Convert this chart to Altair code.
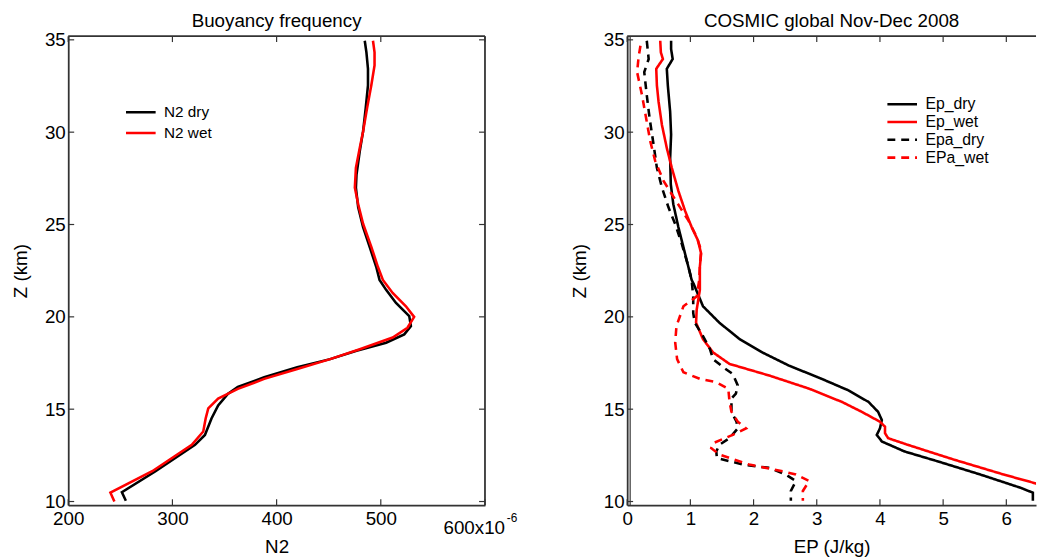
import altair as alt
import pandas as pd

# ---------------- data ----------------
n2_dry_z = [10.04, 10.5, 11.64, 13.07, 13.6, 14.5, 15.2, 15.84, 16.2, 16.73, 17.27, 17.71, 18.16, 18.6,
            19.05, 19.5, 20.04, 20.75, 21.46, 22.0, 22.71, 23.79, 24.86, 25.93, 27.0, 27.71, 28.96,
            30.04, 31.29, 32.54, 33.43, 34.32, 34.95]
n2_dry_x = [255.3, 251.5, 283.8, 321.7, 331.2, 337.5, 343.9, 353.4, 362.8, 388.1, 419.8, 451.4, 476.7,
            505.1, 522.5, 528.9, 527.3, 514.6, 505.1, 498.8, 495.6, 489.3, 483.0, 478.3, 476.1, 476.7,
            479.8, 483.0, 485.5, 487.7, 487.7, 486.2, 484.6]
n2_wet_z = [10.0, 10.48, 11.64, 13.07, 13.79, 14.5, 15.04, 15.57, 16.1, 16.64, 17.18, 17.71, 18.25,
            18.88, 19.41, 20.0, 20.57, 21.29, 22.0, 22.71, 23.79, 25.04, 26.1, 27.0, 28.07, 29.14,
            30.04, 31.29, 32.54, 33.61, 34.32, 34.95]
n2_wet_x = [244.3, 240.5, 280.6, 318.6, 329.6, 331.9, 334.4, 343.9, 362.8, 388.1, 419.8, 451.4, 479.8,
            511.4, 525.6, 532.0, 524.1, 511.4, 502.0, 497.2, 490.9, 483.0, 478.3, 475.1, 476.1, 479.8,
            483.0, 486.8, 490.9, 494.0, 494.0, 492.5]

ep_dry_z = [34.95, 34.5, 33.96, 33.43, 32.54, 31.1, 29.86, 28.6, 27.18, 26.1, 24.86, 23.43, 22.0, 21.8,
            20.57, 19.68, 18.79, 18.07, 17.36, 16.64, 16.02, 15.39, 14.86, 14.41, 13.96, 13.61, 13.25,
            12.71, 12.18, 11.46, 10.75, 10.48, 10.04]
ep_dry_x = [0.695, 0.695, 0.72, 0.627, 0.643, 0.68, 0.695, 0.68, 0.69, 0.73, 0.81, 0.915, 1.02, 1.05,
            1.2, 1.46, 1.78, 2.14, 2.56, 3.08, 3.50, 3.82, 3.97, 4.03, 4.0, 3.95, 4.03, 4.39, 4.91,
            5.59, 6.22, 6.42, 6.42]
ep_wet_z = [34.95, 34.32, 33.96, 33.43, 32.54, 31.64, 30.39, 29.14, 28.07, 26.82, 25.75, 24.86, 24.14,
            23.43, 22.71, 22.0, 21.46, 20.39, 19.68, 18.79, 18.07, 17.45, 16.82, 16.11, 15.39, 14.86,
            14.32, 14.05, 13.7, 13.43, 13.07, 12.27, 11.46, 10.93, 10.88]
ep_wet_x = [0.523, 0.533, 0.565, 0.46, 0.47, 0.497, 0.55, 0.627, 0.706, 0.81, 0.915, 1.02, 1.12, 1.17,
            1.15, 1.15, 1.15, 1.1, 1.09, 1.2, 1.36, 1.62, 2.25, 2.88, 3.40, 3.71, 4.0, 4.08, 4.08, 4.13,
            4.44, 5.17, 5.96, 6.52, 6.6]
epa_dry_z = [34.95, 33.96, 33.25, 32.0, 30.75, 29.32, 28.07, 27.0, 25.93, 25.04, 23.96, 22.71, 22.0, 21.1,
             20.21, 19.68, 18.96, 18.25, 17.71, 17.27, 16.91, 16.29, 15.84, 15.57, 14.86, 14.32, 13.96,
             13.43, 13.07, 12.71, 12.36, 12.0, 11.82, 11.46, 11.11, 10.57, 10.04]
epa_dry_x = [0.31, 0.34, 0.27, 0.31, 0.355, 0.418, 0.47, 0.55, 0.653, 0.758, 0.863, 0.97, 1.02, 1.045,
             1.045, 1.07, 1.2, 1.31, 1.36, 1.52, 1.67, 1.75, 1.72, 1.65, 1.65, 1.73, 1.75, 1.62, 1.46,
             1.41, 1.42, 1.83, 2.25, 2.51, 2.67, 2.59, 2.59]
epa_wet_z = [34.68, 34.05, 33.25, 32.0, 30.75, 29.5, 28.43, 27.36, 26.64, 25.93, 25.21, 24.32, 23.61,
             22.71, 22.0, 21.1, 20.57, 19.5, 18.61, 17.71, 17.0, 16.64, 16.46, 16.11, 15.39, 14.86,
             14.32, 13.96, 13.61, 13.16, 12.89, 12.54, 12.0, 11.64, 11.46, 11.11, 10.57, 10.04]
epa_wet_x = [0.21, 0.18, 0.157, 0.235, 0.30, 0.366, 0.444, 0.575, 0.706, 0.837, 0.97, 1.1, 1.17, 1.15,
             1.14, 1.1, 0.89, 0.78, 0.76, 0.79, 0.89, 1.15, 1.41, 1.6, 1.62, 1.65, 1.75, 1.88, 1.67,
             1.36, 1.33, 1.46, 1.93, 2.46, 2.67, 2.88, 2.78, 2.78]

left_series = ["N2 dry", "N2 wet"]
right_series = ["Ep_dry", "Ep_wet", "Epa_dry", "EPa_wet"]
left_xticks = [200, 300, 400, 500, 600]
right_xticks = [0, 1, 2, 3, 4, 5, 6]
yticks = [10, 15, 20, 25, 30, 35]

# ---------------- tables ----------------
def frame(series, zs, xs):
    rows = []
    for name, z, x in zip(series, zs, xs):
        for i, (zz, xx) in enumerate(zip(z, x)):
            rows.append({"series": name, "z": zz, "x": xx, "i": i})
    return pd.DataFrame(rows)

df_left = frame(left_series, [n2_dry_z, n2_wet_z], [n2_dry_x, n2_wet_x])
df_right = frame(right_series, [ep_dry_z, ep_wet_z, epa_dry_z, epa_wet_z],
                 [ep_dry_x, ep_wet_x, epa_dry_x, epa_wet_x])

FONT = "Liberation Sans"
W1, W2, H = 422, 414, 475
YDOM = [9.8, 35.2]
FRAME_C = "#333333"
FS = 19


def x_axis(values, title, expr=None):
    kw = dict(values=values, title=title, ticks=False, grid=False, domainColor=FRAME_C,
              domainWidth=1.8, labelFont=FONT, labelFontSize=FS, labelColor="black",
              labelPadding=5, labelFlush=False, titleFont=FONT, titleFontSize=FS,
              titleFontWeight="normal", titleColor="black", titlePadding=9)
    if expr:
        kw["labelExpr"] = expr
    return alt.Axis(**kw)


Y_AXIS = alt.Axis(values=yticks, title="Z (km)", ticks=False, grid=False, domainColor=FRAME_C,
                  domainWidth=1.8, labelFont=FONT, labelFontSize=FS, labelColor="black",
                  labelPadding=3, labelFlush=False, titleFont=FONT, titleFontSize=FS,
                  titleFontWeight="normal", titleColor="black", titlePadding=14)


def decorations(xticks, xscale, xaxis, yscale, W, right_border):
    one = pd.DataFrame({"a": [0]})
    xt = pd.DataFrame({"x": xticks})
    yt = pd.DataFrame({"z": yticks})
    layers = [
        alt.Chart(xt).mark_rule(color=FRAME_C, strokeWidth=1.2).encode(
            x=alt.X("x:Q", scale=xscale, axis=xaxis), y=alt.value(H), y2=alt.value(H - 6)),
        alt.Chart(xt).mark_rule(color=FRAME_C, strokeWidth=1.2).encode(
            x=alt.X("x:Q", scale=xscale, axis=xaxis), y=alt.value(0), y2=alt.value(6)),
        alt.Chart(yt).mark_rule(color=FRAME_C, strokeWidth=1.2).encode(
            y=alt.Y("z:Q", scale=yscale, axis=Y_AXIS), x=alt.value(0), x2=alt.value(6)),
        alt.Chart(one).mark_rule(color=FRAME_C, strokeWidth=1.8).encode(
            x=alt.value(0), x2=alt.value(W), y=alt.value(0)),
    ]
    if right_border:
        layers.append(alt.Chart(yt).mark_rule(color=FRAME_C, strokeWidth=1.2).encode(
            y=alt.Y("z:Q", scale=yscale, axis=Y_AXIS), x=alt.value(W), x2=alt.value(W - 6)))
        layers.append(alt.Chart(one).mark_rule(color=FRAME_C, strokeWidth=1.8).encode(
            x=alt.value(W), y=alt.value(0), y2=alt.value(H)))
    return layers


def legend(x, y, rowpad, fs):
    return alt.Legend(title=None, orient="none", legendX=x, legendY=y, symbolType="stroke",
                      symbolSize=900, symbolStrokeWidth=2.6, clipHeight=16, labelFont=FONT,
                      labelFontSize=fs, labelColor="black", labelOffset=7, rowPadding=rowpad)


ys = alt.Scale(domain=YDOM, nice=False, zero=False)

# ---------------- left panel ----------------
xs_left = alt.Scale(domain=[200, 600], nice=False, zero=False)
XL_AXIS = x_axis(left_xticks, "N2", "datum.value == 600 ? '' : datum.label")

left_lines = alt.Chart(df_left).mark_line(strokeWidth=2.6, clip=True).encode(
    x=alt.X("x:Q", scale=xs_left, axis=XL_AXIS),
    y=alt.Y("z:Q", scale=ys, axis=Y_AXIS),
    color=alt.Color("series:N", scale=alt.Scale(domain=left_series, range=["black", "red"]),
                    legend=legend(57, 69, 4, 15.5)),
    order="i:Q",
)

exp_df = pd.DataFrame({"x": [600], "base": ["600x10"], "sup": ["-6"]})
exp_base = alt.Chart(exp_df).mark_text(align="left", baseline="alphabetic", dx=-42, font=FONT,
                                       fontSize=FS, color="black").encode(
    x=alt.X("x:Q", scale=xs_left, axis=XL_AXIS), y=alt.value(H + 29), text="base:N")
exp_sup = alt.Chart(exp_df).mark_text(align="left", baseline="alphabetic", dx=22, font=FONT,
                                      fontSize=12, color="black").encode(
    x=alt.X("x:Q", scale=xs_left, axis=XL_AXIS), y=alt.value(H + 17), text="sup:N")

left = alt.layer(left_lines, exp_base, exp_sup,
                 *decorations(left_xticks, xs_left, XL_AXIS, ys, W1, True)).properties(
    width=W1, height=H,
    title=alt.TitleParams("Buoyancy frequency", font=FONT, fontSize=FS, fontWeight="normal",
                          color="black", offset=0),
    view=alt.ViewBackground(stroke="transparent"),
)

# ---------------- right panel ----------------
xs_right = alt.Scale(domain=[0, 6.47], nice=False, zero=False)
XR_AXIS = x_axis(right_xticks, "EP (J/kg)")

right_lines = alt.Chart(df_right).mark_line(strokeWidth=2.6, clip=True).encode(
    x=alt.X("x:Q", scale=xs_right, axis=XR_AXIS),
    y=alt.Y("z:Q", scale=ys, axis=Y_AXIS),
    color=alt.Color("series:N",
                    scale=alt.Scale(domain=right_series, range=["black", "red", "black", "red"]),
                    legend=legend(262, 61, 2, 16)),
    strokeDash=alt.StrokeDash("series:N",
                              scale=alt.Scale(domain=right_series,
                                              range=[[1, 0], [1, 0], [8, 6], [8, 6]]),
                              legend=legend(262, 61, 2, 16)),
    order="i:Q",
)

one = pd.DataFrame({"a": [0]})
inner_left = alt.Chart(one).mark_rule(color=FRAME_C, strokeWidth=1.2).encode(
    x=alt.value(3), y=alt.value(0), y2=alt.value(H))

right = alt.layer(right_lines, inner_left,
                  *decorations(right_xticks, xs_right, XR_AXIS, ys, W2, False)).properties(
    width=W2, height=H,
    title=alt.TitleParams("COSMIC global Nov-Dec 2008", font=FONT, fontSize=FS,
                          fontWeight="normal", color="black", offset=0),
    view=alt.ViewBackground(stroke="transparent"),
)

chart = alt.hconcat(left, right, spacing=52).resolve_scale(
    color="independent", strokeDash="independent", x="independent"
).properties(
    padding={"left": 3, "top": 0, "right": 0, "bottom": 0},
    background="white",
)

chart.save("out.html", embed_options={"renderer": "svg", "actions": False})
